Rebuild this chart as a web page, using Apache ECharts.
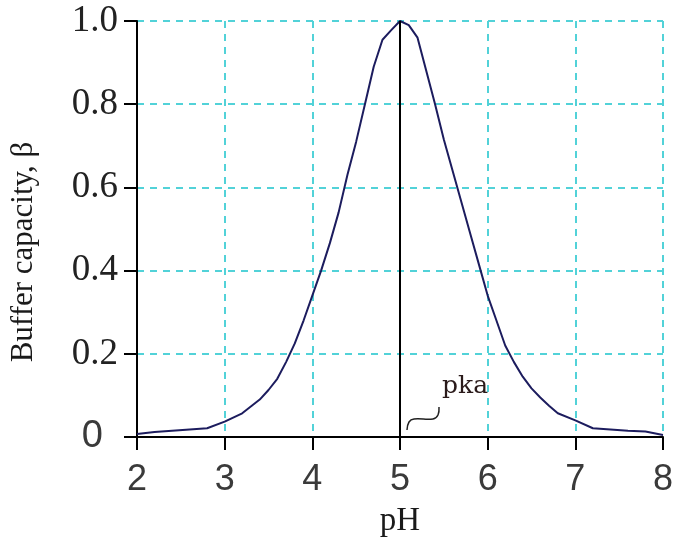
<!DOCTYPE html>
<html>
<head>
<meta charset="utf-8">
<script src="https://cdn.jsdelivr.net/npm/echarts@6/dist/echarts.min.js"></script>
<style>
  html, body { margin: 0; padding: 0; background: #ffffff; }
  #chart { width: 676px; height: 546px; }
</style>
</head>
<body>
<div id="chart"></div>
<script>
// pH values (x) and normalized buffer capacity (y)
const phValues = [2.0, 2.2, 2.4, 2.6, 2.8, 3.0, 3.2, 3.4, 3.5, 3.6, 3.7, 3.8, 3.9, 4.0, 4.1, 4.2, 4.3, 4.4, 4.5, 4.6, 4.7, 4.8, 4.9, 5.0,
                  5.1, 5.2, 5.3, 5.4, 5.5, 5.6, 5.7, 5.8, 5.9, 6.0, 6.1, 6.2, 6.3, 6.4, 6.5, 6.6, 6.7, 6.8, 7.0, 7.2, 7.4, 7.6, 7.8, 8.0];
const betaValues = [0.007, 0.012, 0.015, 0.018, 0.021, 0.037, 0.057, 0.090, 0.113, 0.140, 0.180, 0.225, 0.280, 0.340, 0.400, 0.466, 0.540, 0.630, 0.710, 0.800, 0.890, 0.955, 0.978, 1.000,
                    0.990, 0.960, 0.880, 0.800, 0.715, 0.640, 0.565, 0.490, 0.415, 0.340, 0.280, 0.220, 0.180, 0.145, 0.117, 0.095, 0.075, 0.057, 0.040, 0.021, 0.018, 0.015, 0.013, 0.005];
const xTicks = [2, 3, 4, 5, 6, 7, 8];
const yTicks = [0, 0.2, 0.4, 0.6, 0.8, 1.0];
const pka = 5;
const xTitle = 'pH';
const yTitle = 'Buffer capacity, β';
const annotationText = 'pka';

const chart = echarts.init(document.getElementById('chart'), null, { renderer: 'canvas' });

const gridLine = { show: true, lineStyle: { color: '#52d2d8', width: 2, type: [7, 6] } };

const option = {
  backgroundColor: '#ffffff',
  animation: false,
  grid: { left: 137, right: 13, top: 21, bottom: 109, containLabel: false, outerBoundsMode: 'none' },
  xAxis: {
    type: 'value',
    min: xTicks[0], max: xTicks[xTicks.length - 1], interval: 1,
    name: xTitle, nameLocation: 'middle', nameGap: 68,
    nameTextStyle: { fontFamily: 'Liberation Serif', fontSize: 33, color: '#1a1a1a' },
    axisLine: { show: true, onZero: false, lineStyle: { color: '#000', width: 2 } },
    axisTick: { show: true, inside: false, length: 13, lineStyle: { color: '#000', width: 2 } },
    axisLabel: { margin: 25, fontFamily: 'Liberation Sans', fontSize: 36, color: '#3a3a3a' },
    splitLine: gridLine
  },
  yAxis: {
    type: 'value',
    min: yTicks[0], max: yTicks[yTicks.length - 1], interval: 0.2,
    name: yTitle, nameLocation: 'middle', nameGap: 98, nameRotate: 90,
    nameTextStyle: { fontFamily: 'Liberation Serif', fontSize: 31, color: '#1a1a1a', padding: [0, 46, 0, 0] },
    axisLine: { show: true, onZero: false, lineStyle: { color: '#000', width: 2 } },
    axisTick: { show: true, inside: false, length: 13, lineStyle: { color: '#000', width: 2 } },
    axisLabel: {
      margin: 19,
      formatter: function (v) {
        return v === 0 ? '{z|0}' : '{s|' + v.toFixed(1) + '}';
      },
      rich: {
        s: { fontFamily: 'Liberation Serif', fontSize: 37, color: '#222' },
        z: { fontFamily: 'Liberation Sans', fontSize: 38, color: '#3a3a3a', padding: [0, 15, 0, 0] }
      }
    },
    splitLine: gridLine
  },
  series: [{
    type: 'line',
    data: phValues.map((x, i) => [x, betaValues[i]]),
    showSymbol: false,
    smooth: false,
    lineStyle: { color: '#1c1c5e', width: 2 },
    z: 3,
    markLine: {
      silent: true,
      symbol: ['none', 'none'],
      label: { show: false },
      lineStyle: { color: '#000', width: 2, type: 'solid' },
      data: [[{ coord: [pka, yTicks[0]] }, { coord: [pka, yTicks[yTicks.length - 1]] }]]
    }
  }]
};
chart.setOption(option);

// pka annotation: anchored at the pka point on the x axis
const a = chart.convertToPixel({ gridIndex: 0 }, [pka, 0]);
const off = [[7, -7], [9, -15], [14, -18], [33, -18], [38, -22], [39, -30]];
chart.setOption({
  graphic: [
    {
      type: 'polyline',
      shape: { points: off.map(p => [a[0] + p[0], a[1] + p[1]]), smooth: 0.4 },
      style: { stroke: '#222', lineWidth: 1.5, fill: null },
      z: 10
    },
    {
      type: 'text',
      x: a[0] + 42, y: a[1] - 38,
      style: { text: annotationText, fontFamily: 'DejaVu Serif', fontSize: 25, fill: '#2a1a1a', textVerticalAlign: 'bottom' },
      z: 10
    }
  ]
});
</script>
</body>
</html>
